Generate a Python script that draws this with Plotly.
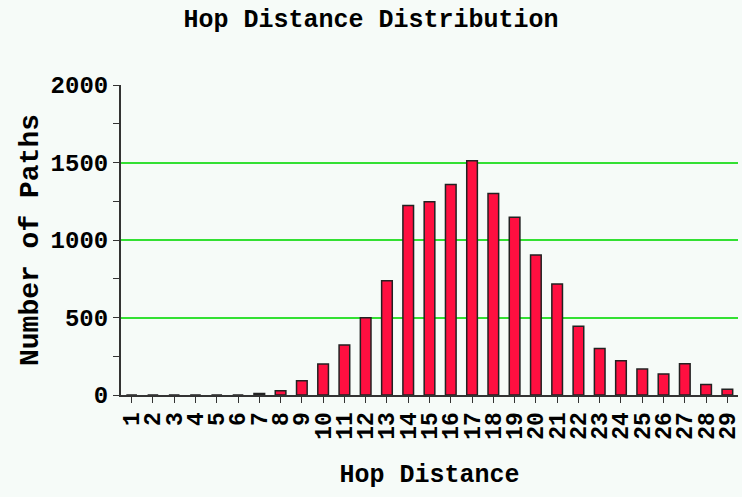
import plotly.graph_objects as go

# hop distance -> number of paths
hops = [str(h) for h in range(1, 30)]
paths = [0, 0, 0, 0, 0, 0, 10, 28, 92, 200, 323, 498, 737, 1222, 1246,
         1358, 1511, 1300, 1146, 903, 716, 444, 300, 221, 167, 136, 201, 68, 37]

y_ticks = [0, 500, 1000, 1500, 2000]

FONT = "Liberation Mono, Courier New, monospace"
BG = "#f6fbf8"

fig = go.Figure(go.Bar(
    x=hops,
    y=paths,
    marker=dict(color="#ff0f40", line=dict(color="#222222", width=1.5)),
))

fig.update_layout(
    width=742,
    height=497,
    margin=dict(l=121, r=0, t=85, b=102),
    paper_bgcolor=BG,
    plot_bgcolor=BG,
    bargap=0.5,
    showlegend=False,
    font=dict(family=FONT, color="#000000", size=23, weight="bold"),
    title=dict(text="Hop Distance Distribution", x=0.5, xanchor="center",
               y=0.963, yanchor="middle",
               font=dict(family=FONT, size=25, weight="bold")),
)

fig.update_xaxes(
    type="category",
    tickmode="array",
    tickvals=hops,
    ticktext=hops,
    tickangle=-90,
    ticks="outside",
    ticklen=6,
    tickcolor="#333333",
    showline=True,
    linecolor="#333333",
    linewidth=2,
    showgrid=False,
    tickfont=dict(size=23),
    title=dict(text="Hop Distance", font=dict(size=25), standoff=26),
)

fig.update_yaxes(
    range=[0, 2000],
    tickvals=y_ticks,
    ticks="outside",
    ticklen=6,
    tickcolor="#333333",
    showline=True,
    linecolor="#333333",
    linewidth=2,
    showgrid=True,
    gridcolor="#33e033",
    gridwidth=1.5,
    zeroline=False,
    minor=dict(dtick=250, ticks="outside", ticklen=6, tickcolor="#333333", showgrid=False),
    tickfont=dict(size=24),
    title=dict(text="Number of Paths", font=dict(size=28), standoff=4),
)

# drop the default page margin so the figure sits at the window's corner
fig.write_html("out.html", config={"displayModeBar": False}, post_script=(
    "document.body.style.margin='0';"
    f"document.body.style.background='{BG}';"
))
